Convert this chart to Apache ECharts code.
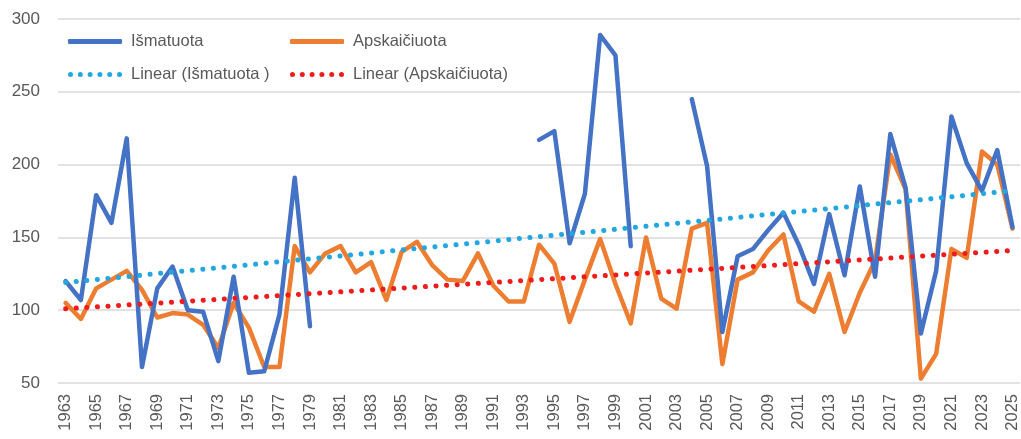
<!DOCTYPE html>
<html lang="lt">
<head>
<meta charset="UTF-8">
<title>Išmatuota / Apskaičiuota</title>
<script src="https://cdn.jsdelivr.net/npm/echarts@6/dist/echarts.min.js"></script>
<style>
  html, body { margin: 0; padding: 0; background: #fff; }
  #chart { width: 1021px; height: 439px; }
</style>
</head>
<body>
<div id="chart"></div>
<script>
// metai
var years = [];
for (var y = 1963; y <= 2025; y++) years.push(String(y));

// išmatuota (tarpai - null)
var measured = [
  120, 107, 179, 160, 218, 61, 115, 130, 100, 99,
  65, 123, 57, 58, 97, 191, 89, null, null, null,
  null, null, null, null, null, null, null, null, null, null,
  null, 217, 223, 146, 180, 289, 275, 144, null, null,
  null, 245, 199, 85, 137, 142, 155, 167, 145, 118,
  166, 124, 185, 123, 221, 184, 84, 127, 233, 201,
  182, 210, 157
];

// apskaičiuota
var calculated = [
  105, 94, 115, 121, 127, 114, 95, 98, 97, 90,
  74, 105, 88, 61, 61, 144, 126, 139, 144, 126,
  133, 107, 140, 147, 131, 121, 120, 139, 117, 106,
  106, 145, 132, 92, 121, 149, 118, 91, 150, 108,
  101, 156, 160, 63, 121, 126, 141, 152, 106, 99,
  125, 85, 112, 134, 207, 183, 53, 70, 142, 136,
  209, 200, 156
];

// tendencijų linijų galai (1963 ir 2025)
var trendMeasuredEnds = [119, 182];
var trendCalculatedEnds = [101, 141];

function ends(pair) {
  var arr = years.map(function () { return null; });
  arr[0] = pair[0];
  arr[arr.length - 1] = pair[1];
  return arr;
}

var font = "'Liberation Sans', Arial, sans-serif";
var grey = '#595959';
var dotted = [0.1, 10.5];

// 6 taškai legendai
var dots = 'path://';
for (var i = 0; i < 6; i++) {
  var cx = 2.5 + i * 9.8;
  dots += 'M' + (cx - 2.5) + ' 2.5a2.5 2.5 0 1 0 5 0a2.5 2.5 0 1 0 -5 0z';
}

var chart = echarts.init(document.getElementById('chart'));

function leg(name, icon, left, top) {
  return {
    data: [{ name: name, icon: icon }],
    left: left, top: top,
    itemWidth: 54, itemHeight: 5,
    itemGap: 0,
    textStyle: { color: grey, fontSize: 16.5, fontFamily: font, padding: [0, 0, 0, 4] }
  };
}

var option = {
  animation: false,
  textStyle: { fontFamily: font },
  legend: [
    leg('Išmatuota', 'roundRect', 63, 28),
    leg('Apskaičiuota', 'roundRect', 285, 28),
    leg('Linear (Išmatuota )', dots, 63, 61),
    leg('Linear (Apskaičiuota)', dots, 285, 61)
  ],
  grid: { left: 58, right: -2, top: 19, bottom: 56 },
  xAxis: {
    type: 'category',
    data: years,
    boundaryGap: true,
    axisLine: { show: false },
    axisTick: { show: false },
    axisLabel: {
      interval: 1,
      rotate: 90,
      color: grey,
      fontSize: 16.5,
      fontFamily: font,
      margin: 11
    },
    splitLine: { show: false }
  },
  yAxis: {
    type: 'value',
    min: 50, max: 300, interval: 50,
    axisLine: { show: false },
    axisTick: { show: false },
    axisLabel: { color: grey, fontSize: 17, fontFamily: font, margin: 18 },
    splitLine: { lineStyle: { color: '#d9d9d9', width: 1.5 } }
  },
  series: [
    {
      name: 'Linear (Išmatuota )',
      type: 'line',
      data: ends(trendMeasuredEnds),
      connectNulls: true,
      symbol: 'none',
      z: 3,
      lineStyle: { color: '#22a7e0', width: 5, type: dotted, cap: 'round' },
      itemStyle: { color: '#22a7e0' }
    },
    {
      name: 'Linear (Apskaičiuota)',
      type: 'line',
      data: ends(trendCalculatedEnds),
      connectNulls: true,
      symbol: 'none',
      z: 3,
      lineStyle: { color: '#f01c1c', width: 5, type: dotted, cap: 'round' },
      itemStyle: { color: '#f01c1c' }
    },
    {
      name: 'Apskaičiuota',
      type: 'line',
      data: calculated,
      symbol: 'none',
      z: 2,
      lineStyle: { color: '#ed7d31', width: 4.5, cap: 'round', join: 'round' },
      itemStyle: { color: '#ed7d31' }
    },
    {
      name: 'Išmatuota',
      type: 'line',
      data: measured,
      symbol: 'none',
      connectNulls: false,
      z: 2,
      lineStyle: { color: '#4472c4', width: 4.5, cap: 'round', join: 'round' },
      itemStyle: { color: '#4472c4' }
    }
  ]
};

chart.setOption(option);
</script>
</body>
</html>
